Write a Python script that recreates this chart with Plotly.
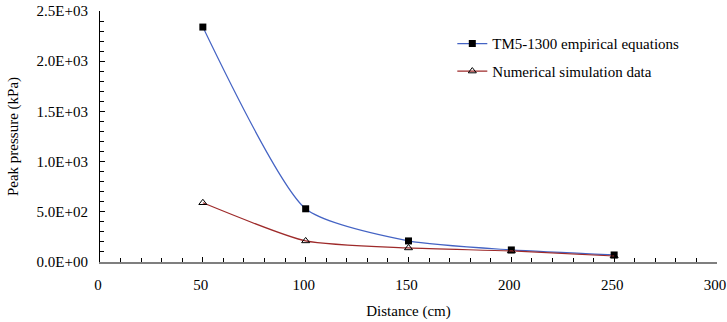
import plotly.graph_objects as go

distance = [50, 100, 150, 200, 250]
tm5_1300 = [2340, 530, 210, 120, 70]
numerical = [590, 210, 140, 110, 60]

y_tickvals = [0, 500, 1000, 1500, 2000, 2500]
y_ticktext = ["0.0E+00", "5.0E+02", "1.0E+03", "1.5E+03", "2.0E+03", "2.5E+03"]
x_tickvals = [0, 50, 100, 150, 200, 250, 300]

font_family = "Liberation Serif"

fig = go.Figure()
fig.add_trace(go.Scatter(
    x=distance, y=tm5_1300, mode="lines+markers",
    name="TM5-1300 empirical equations", legendgroup="a",
    line=dict(color="#4463c4", width=1.2, shape="spline", smoothing=0.6),
    marker=dict(symbol="square", size=7, color="black"),
))
fig.add_trace(go.Scatter(
    x=distance, y=numerical, mode="lines+markers",
    name="Numerical simulation data", legendgroup="b",
    line=dict(color="#9e2a2a", width=1.2, shape="spline", smoothing=0.6),
    marker=dict(symbol="triangle-up-open", size=7, color="black", line=dict(width=1)),
))

fig.update_layout(
    width=727, height=322,
    margin=dict(l=100, r=10, t=11, b=60),
    paper_bgcolor="white", plot_bgcolor="white",
    font=dict(family=font_family, size=15, color="black"),
    showlegend=True,
    legend=dict(x=0.571, y=0.935, xanchor="left", yanchor="top", traceorder="grouped",
                bgcolor="rgba(0,0,0,0)", font=dict(family=font_family, size=15),
                tracegroupgap=5, itemwidth=30),
)
fig.update_xaxes(
    range=[-0.01, 300.01], tickvals=x_tickvals, showgrid=False, zeroline=False,
    showline=True, linecolor="#7f7f7f", linewidth=1.5, automargin=False,
    ticks="inside", ticklen=5, tickcolor="black",
    tickfont=dict(family=font_family, size=15), ticklabeloverflow="allow",
    ticklabelshift=-2,
    minor=dict(ticks="inside", dtick=10, ticklen=4, tickcolor="black"),
    title=dict(text="Distance (cm)", font=dict(family=font_family, size=15), standoff=14),
    ticklabelstandoff=8,
)
fig.update_yaxes(
    range=[0, 2500], tickvals=y_tickvals, ticktext=y_ticktext, showgrid=False,
    zeroline=False, showline=True, linecolor="black", linewidth=1.2, automargin=False,
    ticks="inside", ticklen=5, tickcolor="black",
    tickfont=dict(family=font_family, size=15),
    minor=dict(ticks="inside", dtick=100, ticklen=4, tickcolor="black"),
    title=dict(text="Peak pressure (kPa)", font=dict(family=font_family, size=15), standoff=14),
    ticklabelstandoff=8,
)

fig.write_html("out.html")
